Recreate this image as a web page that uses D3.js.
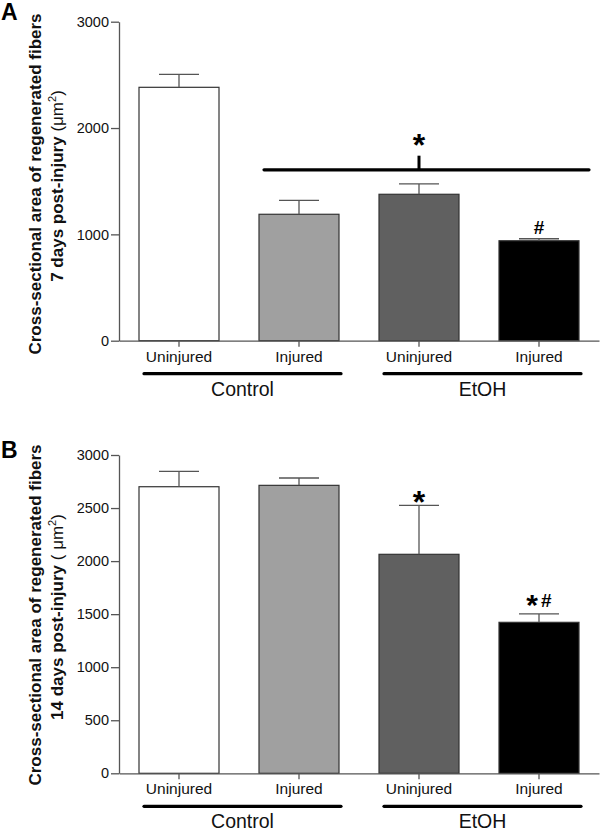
<!DOCTYPE html>
<html>
<head>
<meta charset="utf-8">
<script src="https://cdn.jsdelivr.net/npm/d3@7"></script>
<style>
  html, body { margin: 0; padding: 0; background: #fff; }
  svg { display: block; font-family: "Liberation Sans", Arial, sans-serif; }
</style>
</head>
<body>
<svg id="chart" width="600" height="832"></svg>
<script>
// ---- Data ----
const categories = ["Uninjured", "Injured", "Uninjured", "Injured"];
const groups = ["Control", "EtOH"];
const barColors = ["#ffffff", "#a0a0a0", "#606060", "#000000"];

const valuesA = [2383, 1189, 1377, 940];
const errorsA = [122, 131, 97, 19];
const ticksA = [0, 1000, 2000, 3000];
const marksA = ["", "", "", "#"];

const valuesB = [2701, 2714, 2064, 1423];
const errorsB = [145, 69, 462, 79];
const ticksB = [0, 500, 1000, 1500, 2000, 2500, 3000];
const marksB = ["", "", "*", "*#"];

const titleLine1 = "Cross-sectional area of regenerated fibers";
const titleA = "7 days post-injury ";
const unitA = "(\u03bcm";
const titleB = "14 days post-injury ";
const unitB = "( \u03bcm";

// ---- Drawing ----
const svg = d3.select("#chart");
const left = 119, right = 599;
const FONT = "'Liberation Sans', Arial, sans-serif";

function drawPanel(opt) {
  const g = svg.append("g");
  const x = d3.scaleBand().domain(d3.range(categories.length))
    .range([left, right]).paddingInner(1 / 3).paddingOuter(1 / 6);
  const y = d3.scaleLinear().domain([0, 3000]).range([opt.bottom, opt.top]);

  // bars
  g.selectAll("rect.bar").data(opt.values).join("rect")
    .attr("x", (d, i) => x(i)).attr("width", x.bandwidth())
    .attr("y", d => y(d)).attr("height", d => y(0) - y(d))
    .attr("fill", (d, i) => barColors[i])
    .attr("stroke", "#333").attr("stroke-width", 1.2);

  // error bars
  const eb = g.selectAll("g.err").data(opt.values).join("g");
  eb.append("line")
    .attr("x1", (d, i) => x(i) + x.bandwidth() / 2).attr("x2", (d, i) => x(i) + x.bandwidth() / 2)
    .attr("y1", d => y(d)).attr("y2", (d, i) => y(d + opt.errors[i]))
    .attr("stroke", "#555").attr("stroke-width", 1.3);
  eb.append("line")
    .attr("x1", (d, i) => x(i) + x.bandwidth() / 4).attr("x2", (d, i) => x(i) + 3 * x.bandwidth() / 4)
    .attr("y1", (d, i) => y(d + opt.errors[i])).attr("y2", (d, i) => y(d + opt.errors[i]))
    .attr("stroke", "#555").attr("stroke-width", 1.3);

  // y axis
  const ya = g.append("g").attr("transform", `translate(${left},0)`)
    .call(d3.axisLeft(y).tickValues(opt.ticks).tickFormat(d3.format("d"))
      .tickSize(8).tickPadding(2).tickSizeOuter(0));
  ya.select(".domain").attr("stroke", "#555").attr("stroke-width", 1.3);
  ya.selectAll(".tick line").attr("stroke", "#555").attr("stroke-width", 1.3);
  ya.selectAll(".tick text").attr("font-size", 14.5).attr("fill", "#111").attr("font-family", FONT);

  // x axis
  const xa = g.append("g").attr("transform", `translate(0,${opt.bottom})`)
    .call(d3.axisBottom(x).tickFormat(i => categories[i]).tickSize(6).tickPadding(4).tickSizeOuter(0));
  xa.select(".domain").attr("stroke", "#555").attr("stroke-width", 1.3);
  xa.selectAll(".tick line").attr("stroke", "#555").attr("stroke-width", 1.3);
  xa.selectAll(".tick text").attr("font-size", 15.5).attr("fill", "#111").attr("font-family", FONT);

  // group underlines + labels
  const groupSpans = [[0, 1], [2, 3]];
  groupSpans.forEach((s, gi) => {
    const x1 = x(s[0]) + 5, x2 = x(s[1]) + x.bandwidth() + 2;
    g.append("line").attr("x1", x1).attr("x2", x2)
      .attr("y1", opt.bottom + 33).attr("y2", opt.bottom + 33)
      .attr("stroke", "#000").attr("stroke-width", 3.2).attr("stroke-linecap", "round");
    g.append("text").attr("x", (x1 + x2) / 2).attr("y", opt.bottom + 55)
      .attr("text-anchor", "middle").attr("font-size", 19.5).attr("fill", "#111")
      .text(groups[gi]);
  });

  // significance marks over bars
  opt.marks.forEach((m, i) => {
    if (!m) return;
    const cx = x(i) + x.bandwidth() / 2;
    const ty = y(opt.values[i] + opt.errors[i]);
    const t = g.append("text").attr("x", cx).attr("text-anchor", "middle")
      .attr("font-weight", "bold").attr("fill", "#000");
    if (m === "#") {
      t.attr("y", ty - 5).attr("font-size", 19).text("#");
    } else if (m === "*") {
      t.attr("y", ty + 8).attr("font-size", 32).text("*");
    } else {
      t.attr("y", ty - 7);
      t.append("tspan").attr("font-size", 30).attr("dy", 8).text("*");
      t.append("tspan").attr("font-size", 19).attr("dx", 3).attr("dy", -8).text("#");
    }
  });

  // y title
  const cy = opt.titleY;
  g.append("text").attr("transform", `translate(35,${cy}) rotate(-90)`)
    .attr("text-anchor", "middle").attr("font-size", 17).attr("font-weight", "bold")
    .attr("dy", "0.35em").attr("fill", "#111").text(titleLine1);
  const t2 = g.append("text").attr("transform", `translate(57,${cy + 2}) rotate(-90)`)
    .attr("text-anchor", "middle").attr("font-size", 17).attr("font-weight", "bold")
    .attr("dy", "0.35em").attr("fill", "#111");
  t2.append("tspan").text(opt.title2);
  t2.append("tspan").attr("font-weight", "normal").text(opt.unit);
  t2.append("tspan").attr("font-weight", "normal").attr("font-size", 11).attr("dy", -7).text("2");
  t2.append("tspan").attr("font-weight", "normal").attr("dy", 7).text(")");

  // panel letter
  g.append("text").attr("x", 1).attr("y", opt.letterY).attr("font-size", 23)
    .attr("font-weight", "bold").attr("fill", "#000").text(opt.letter);

  return { x, y };
}

// Panel A
const pa = drawPanel({
  top: 21.7, bottom: 340.7, values: valuesA, errors: errorsA, ticks: ticksA,
  marks: marksA, title2: titleA, unit: unitA, titleY: 184, letter: "A", letterY: 20
});
// A: overall significance bracket
(function () {
  const x = pa.x, y = pa.y;
  const x1 = x(1) + 5, x2 = right - 10;
  const ly = y(1607);
  const cx = x(2) + x.bandwidth() / 2;
  svg.append("line").attr("x1", x1).attr("x2", x2).attr("y1", ly).attr("y2", ly)
    .attr("stroke", "#000").attr("stroke-width", 3.2).attr("stroke-linecap", "round");
  svg.append("line").attr("x1", cx).attr("x2", cx).attr("y1", ly).attr("y2", y(1740))
    .attr("stroke", "#000").attr("stroke-width", 3);
  svg.append("text").attr("x", cx).attr("y", y(1740)).attr("text-anchor", "middle")
    .attr("font-size", 32).attr("font-weight", "bold").text("*");
})();

// Panel B
drawPanel({
  top: 455, bottom: 773.3, values: valuesB, errors: errorsB, ticks: ticksB,
  marks: marksB, title2: titleB, unit: unitB, titleY: 615, letter: "B", letterY: 458
});
</script>
</body>
</html>
